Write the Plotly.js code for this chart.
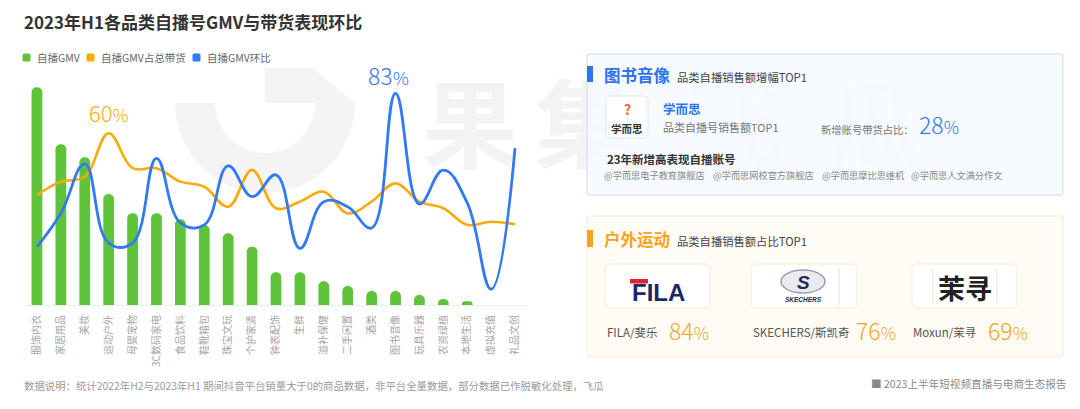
<!DOCTYPE html>
<html>
<head>
<meta charset="utf-8">
<script src="https://cdn.plot.ly/plotly-3.0.1.min.js"></script>
<style>
html,body{margin:0;padding:0;background:#fff;}
#chart{width:1080px;height:409px;}
</style>
</head>
<body>
<div id="chart"></div>
<script>
// ---------------- data ----------------
const categories = ['服饰内衣','家居用品','美妆','运动户外','母婴宠物','3C数码家电','食品饮料','鞋靴箱包','珠宝文玩','个护家清','钟表配饰','生鲜','滋补保健','二手闲置','酒类','图书音像','玩具乐器','农资绿植','本地生活','虚拟充值','礼品文创'];
const gmvIndex = [100, 73.8, 67.8, 51.0, 42.1, 42.1, 39.4, 36.7, 32.9, 26.8, 15.0, 15.0, 10.9, 8.7, 6.4, 6.4, 4.6, 2.8, 1.7, 0, 0];
const shareOfSales = [38.4, 43.1, 44.8, 60, 47.8, 47.8, 43.1, 41.3, 34.3, 47.2, 33.8, 36.1, 39.6, 32.0, 36.1, 42.5, 36.1, 33.8, 28.0, 29.1, 28.2];
const momGrowth = [22.9, 36.0, 55.3, 24.3, 24.3, 57.5, 32.2, 31.4, 54.5, 42.5, 51.0, 22.2, 40.5, 38.5, 30.2, 83, 39.6, 52.9, 40.0, 6.2, 61.5];
const legendNames = ['自播GMV', '自播GMV占总带货', '自播GMV环比'];
const highlightShare = {category: '运动户外', label: '60%'};
const highlightMom = {category: '图书音像', label: '83%'};

const panel1 = {title: '图书音像', subtitle: '品类自播销售额增幅TOP1', brand: '学而思', brandSub: '品类自播号销售额TOP1', metricLabel: '新增账号带货占比：', metric: '28', listTitle: '23年新增高表现自播账号', accounts: ['@学而思电子教育旗舰店', '@学而思网校官方旗舰店', '@学而思摩比思维机', '@学而思人文满分作文']};
const panel2 = {title: '户外运动', subtitle: '品类自播销售额占比TOP1', brands: ['FILA/斐乐', 'SKECHERS/斯凯奇', 'Moxun/茉寻'], shares: ['84', '76', '69']};
const footerNote = '数据说明：统计2022年H2与2023年H1 期间抖音平台销量大于0的商品数据，非平台全量数据，部分数据已作脱敏化处理，飞瓜';
const footerSource = '■ 2023上半年短视频直播与电商生态报告';
const chartTitle = '2023年H1各品类自播号GMV与带货表现环比';

// ---------------- layout helpers ----------------
const W = 1080, H = 409;
const ML = 25, MR = 553, MT = 60, MB = 104;
const PW = W - ML - MR, PH = H - MT - MB;
const X = px => (px - ML) / PW;
const Y = py => (H - MB - py) / PH;
const FONT = '"Noto Sans CJK SC", "Noto Sans", sans-serif';

function rr(x0, y0, x1, y1, r) {
  const p = (x, y) => X(x) + ',' + Y(y);
  return 'M' + p(x0 + r, y0) + ' L' + p(x1 - r, y0) + ' Q' + p(x1, y0) + ' ' + p(x1, y0 + r) +
    ' L' + p(x1, y1 - r) + ' Q' + p(x1, y1) + ' ' + p(x1 - r, y1) +
    ' L' + p(x0 + r, y1) + ' Q' + p(x0, y1) + ' ' + p(x0, y1 - r) +
    ' L' + p(x0, y0 + r) + ' Q' + p(x0, y0) + ' ' + p(x0 + r, y0) + ' Z';
}
function rect(x0, y0, x1, y1, fill, line, lw, layer) {
  return {type: 'rect', xref: 'paper', yref: 'paper', x0: X(x0), x1: X(x1), y0: Y(y1), y1: Y(y0),
    fillcolor: fill, line: {color: line || 'rgba(0,0,0,0)', width: lw || 0}, layer: layer || 'above'};
}
function rrect(x0, y0, x1, y1, r, fill, line, lw, layer) {
  return {type: 'path', xref: 'paper', yref: 'paper', path: rr(x0, y0, x1, y1, r),
    fillcolor: fill, line: {color: line || 'rgba(0,0,0,0)', width: lw || 0}, layer: layer || 'above'};
}
function txt(x, y, text, size, color, opts) {
  opts = opts || {};
  return Object.assign({xref: 'paper', yref: 'paper', x: X(x), y: Y(y), text: text, showarrow: false,
    xanchor: 'left', yanchor: 'middle', font: {family: FONT, size: size, color: color}}, opts);
}
function wm(cx, cy, ch, size) {
  return {type: 'rect', xref: 'paper', yref: 'paper', x0: X(cx - 60), x1: X(cx + 60), y0: Y(cy + 60), y1: Y(cy - 60),
    fillcolor: 'rgba(0,0,0,0)', line: {width: 0}, layer: 'below',
    label: {text: ch, font: {family: FONT, size: size, color: '#f3f3f3', weight: 700}, textposition: 'middle center'}};
}
// watermark logo path (decorative)
function logoPath() {
  const cx = 265, cy = 103, ro = 90, ri = 50;
  const pts = [];
  for (let i = 0; i <= 40; i++) { const t = Math.PI - Math.PI * i / 40; pts.push([cx + ro * Math.cos(t), cy + ro * Math.sin(t)]); }
  pts.push([313, 68]); pts.push([cx, 68]); pts.push([cx, cy]);
  for (let i = 0; i <= 40; i++) { const t = Math.PI * i / 40; pts.push([cx + ri * Math.cos(t), cy + ri * Math.sin(t)]); }
  return 'M' + pts.map(p => X(p[0]) + ',' + Y(p[1])).join(' L') + ' Z';
}

// ---------------- traces ----------------
const traces = [
  {type: 'bar', x: categories, y: gmvIndex, name: legendNames[0], yaxis: 'y',
    width: 0.45, marker: {color: '#5fc43a', cornerradius: '50%'}, hoverinfo: 'x+y'},
  {type: 'scatter', mode: 'lines', x: categories, y: shareOfSales, name: legendNames[1], yaxis: 'y2',
    line: {color: '#fbaa0b', width: 2.6, shape: 'spline', smoothing: 1.1}},
  {type: 'scatter', mode: 'lines', x: categories, y: momGrowth, name: legendNames[2], yaxis: 'y3',
    line: {color: '#3179f5', width: 2.8, shape: 'spline', smoothing: 1.2}}
];

// ---------------- shapes ----------------
const shapes = [
  wm(470, 133, '果', 96), wm(583, 133, '集', 96), wm(735, 133, '飞', 96), wm(875, 133, '瓜', 96),
  {type: 'path', xref: 'paper', yref: 'paper', path: logoPath(), fillcolor: '#f4f4f4', line: {width: 0}, layer: 'below'},
  // legend squares
  rrect(22.5, 53.5, 30.5, 61.5, 1.5, '#5fc43a'),
  rrect(86.5, 53.5, 94.5, 61.5, 1.5, '#fbaa0b'),
  rrect(192.5, 53.5, 200.5, 61.5, 1.5, '#3179f5'),
  // panel 1
  rrect(587, 54, 1063, 195, 2, 'rgba(246,249,255,0.84)', '#cddcf8', 1),
  rect(587, 66, 593, 82, '#2f73f0'),
  rrect(606, 96, 648, 138, 5, '#ffffff', '#dde6f7', 1),
  // panel 2
  rrect(587, 216, 1063, 357, 2, 'rgba(255,250,243,0.86)', '#fde7c8', 1),
  rect(587, 230, 593, 247, '#f8a31b'),
  rrect(605, 264, 710, 308, 6, '#ffffff', '#fde8cc', 1),
  rrect(751, 264, 857, 308, 6, '#ffffff', '#fde8cc', 1),
  rrect(912, 264, 1017, 308, 6, '#ffffff', '#fde8cc', 1),
  // FILA red bar
  rect(630, 279, 648, 283.5, '#e3222f'),
  // SKECHERS oval
  {type: 'circle', xref: 'paper', yref: 'paper', x0: X(781), x1: X(825), y0: Y(293), y1: Y(270),
    fillcolor: '#e9ebef', line: {color: '#9aa0aa', width: 1.5}, layer: 'above'},
  rect(838.5, 268, 839.5, 305, '#dddddd'),
  rect(932.5, 269, 933.5, 304, '#e3e3e3'),
  rect(996.5, 269, 997.5, 304, '#e3e3e3')
];

// ---------------- annotations ----------------
const pctSpan = s => s + '<span style="font-size:17px">%</span>';
const annotations = [
  txt(22, 21, '<b>' + chartTitle + '</b>', 17, '#333333'),
  txt(35, 58, legendNames[0], 10.5, '#666666'),
  txt(99, 58, legendNames[1], 10.5, '#666666'),
  txt(205, 58, legendNames[2], 10.5, '#666666'),
  // highlight labels anchored to data
  {xref: 'x', yref: 'y2', x: highlightShare.category, y: shareOfSales[categories.indexOf(highlightShare.category)],
    text: highlightShare.label.replace('%', '<span style="font-size:18px">%</span>'), showarrow: false, yanchor: 'bottom', yshift: 3,
    font: {family: FONT, size: 22, color: '#fbaa0b', weight: 300}},
  {xref: 'x', yref: 'y3', x: highlightMom.category, y: momGrowth[categories.indexOf(highlightMom.category)],
    text: highlightMom.label.replace('%', '<span style="font-size:18px">%</span>'), showarrow: false, yanchor: 'bottom', yshift: -1, xshift: -7,
    font: {family: FONT, size: 23, color: '#3179f5', weight: 300}},
  // panel 1
  txt(602, 75, '<b>' + panel1.title + '</b>', 16.5, '#2f73f0'),
  txt(675, 77, panel1.subtitle, 11.3, '#444444'),
  txt(627, 109, '<b>?</b>', 14, '#f0692e', {xanchor: 'center'}),
  txt(627, 128, '<b>学而思</b>', 10.5, '#333333', {xanchor: 'center'}),
  txt(661, 108, '<b>' + panel1.brand + '</b>', 12.5, '#2f73f0'),
  txt(661, 127, panel1.brandSub, 11, '#777777'),
  txt(819, 129, panel1.metricLabel, 10.3, '#777777'),
  txt(917, 124, pctSpan(panel1.metric), 22, '#3179f5', {font: {family: FONT, size: 23, color: '#3179f5', weight: 300}}),
  txt(605, 159, '<b>' + panel1.listTitle + '</b>', 11.5, '#333333'),
  txt(602, 175, panel1.accounts[0], 9.2, '#888888'),
  txt(711, 175, panel1.accounts[1], 9.2, '#888888'),
  txt(820, 175, panel1.accounts[2], 9.2, '#888888'),
  txt(909, 175, panel1.accounts[3], 9.2, '#888888'),
  // panel 2
  txt(602, 239, '<b>' + panel2.title + '</b>', 16.5, '#f8a31b'),
  txt(675, 241, panel2.subtitle, 11.3, '#444444'),
  txt(658, 292, '<b>FILA</b>', 22, '#1b2a63', {xanchor: 'center', font: {family: 'Liberation Sans, Arial, sans-serif', size: 24, color: '#1b2a63'}}),
  txt(803, 282, '<b><i>S</i></b>', 17, '#1c2b5a', {xanchor: 'center', font: {family: 'Liberation Sans, Arial, sans-serif', size: 19, color: '#1c2b5a'}}),
  txt(803, 299, '<b><i>SKECHERS</i></b>', 6, '#1c2b5a', {xanchor: 'center', font: {family: 'Liberation Sans, Arial, sans-serif', size: 6.5, color: '#1c2b5a'}}),
  txt(965, 287, '<b>茉寻</b>', 27, '#222222', {xanchor: 'center'}),
  txt(605, 332, panel2.brands[0], 11.5, '#555555'),
  txt(667, 330, pctSpan(panel2.shares[0]), 22, '#f8a31b', {font: {family: FONT, size: 23, color: '#f8a31b', weight: 300}}),
  txt(751, 332, panel2.brands[1], 11.5, '#555555'),
  txt(854, 330, pctSpan(panel2.shares[1]), 22, '#f8a31b', {font: {family: FONT, size: 23, color: '#f8a31b', weight: 300}}),
  txt(911, 332, panel2.brands[2], 11.5, '#555555'),
  txt(986, 330, pctSpan(panel2.shares[2]), 22, '#f8a31b', {font: {family: FONT, size: 23, color: '#f8a31b', weight: 300}}),
  // footer
  txt(22, 385, footerNote, 10.4, '#9a9a9a'),
  txt(1068, 383, footerSource, 10.6, '#8a8a8a', {xanchor: 'right'})
];

const layout = {
  width: W, height: H,
  margin: {l: ML, r: MR, t: MT, b: MB, pad: 0},
  paper_bgcolor: '#ffffff', plot_bgcolor: 'rgba(0,0,0,0)',
  font: {family: FONT, size: 10, color: '#999999'},
  showlegend: false,
  bargap: 0.5,
  xaxis: {type: 'category', range: [-0.5, 20.5], automargin: false, fixedrange: true,
    showline: true, linecolor: '#ececec', linewidth: 1, showgrid: false, zeroline: false,
    ticks: '', tickangle: -90, ticklabelstandoff: 5, tickfont: {family: FONT, size: 10, color: '#a5a5a5'}},
  yaxis: {range: [0, 112.5], visible: false, fixedrange: true},
  yaxis2: {range: [0, 85.6], overlaying: 'y', visible: false, fixedrange: true},
  yaxis3: {range: [0, 96.05], overlaying: 'y', visible: false, fixedrange: true},
  shapes: shapes,
  annotations: annotations
};

Plotly.newPlot('chart', traces, layout, {displayModeBar: false, staticPlot: true});
</script>
</body>
</html>
